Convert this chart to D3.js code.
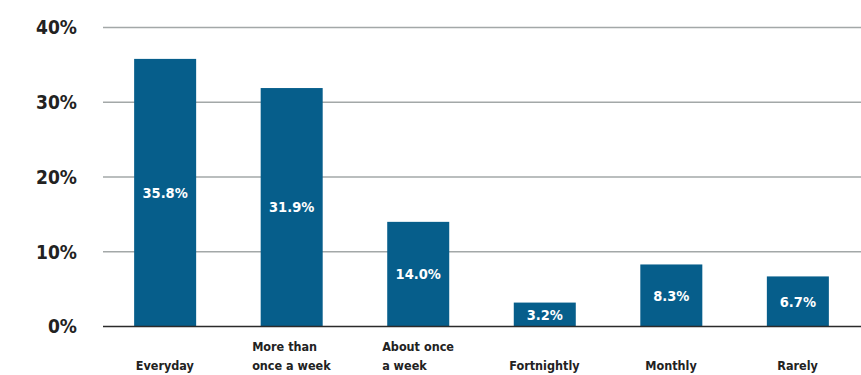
<!DOCTYPE html>
<html>
<head>
<meta charset="utf-8">
<script src="https://cdn.jsdelivr.net/npm/d3@7"></script>
<style>
  body { margin: 0; background: #fff; }
  svg { display: block; font-family: "DejaVu Sans Condensed", "DejaVu Sans", sans-serif; }
</style>
</head>
<body>
<div id="chart"></div>
<script>
const categories = ["Everyday", "More than once a week", "About once a week", "Fortnightly", "Monthly", "Rarely"]
const categoryLines = [["Everyday"], ["More than", "once a week"], ["About once", "a week"], ["Fortnightly"], ["Monthly"], ["Rarely"]]
const values = [35.8, 31.9, 14.0, 3.2, 8.3, 6.7]
const yTicks = [0, 10, 20, 30, 40]

const width = 861
const height = 375
const marginTop = 27.5
const marginBottom = 48.5
const marginLeft = 103
const marginRight = 0

const svg = d3.select("#chart")
  .append("svg")
  .attr("width", width)
  .attr("height", height)
  .attr("viewBox", [0, 0, width, height])

const x = d3.scaleBand()
  .domain(categories)
  .range([marginLeft - 0.5, width - marginRight - 0.5])
  .paddingInner(0.51)
  .paddingOuter(0.25)

const y = d3.scaleLinear()
  .domain([0, 40])
  .range([height - marginBottom, marginTop])

// gridlines
svg.append("g")
  .selectAll("line")
  .data(yTicks.filter(d => d > 0))
  .join("line")
  .attr("x1", marginLeft)
  .attr("x2", width)
  .attr("y1", d => y(d))
  .attr("y2", d => y(d))
  .attr("stroke", "#a3a8a8")
  .attr("stroke-width", 1.5)

// y tick labels
svg.append("g")
  .selectAll("text")
  .data(yTicks)
  .join("text")
  .attr("x", 77)
  .attr("y", d => y(d))
  .attr("dy", "0.36em")
  .attr("text-anchor", "end")
  .attr("font-size", 19)
  .attr("font-weight", "bold")
  .attr("fill", "#222")
  .text(d => d + "%")

// bars
svg.append("g")
  .selectAll("rect")
  .data(values)
  .join("rect")
  .attr("x", (d, i) => x(categories[i]))
  .attr("width", x.bandwidth())
  .attr("y", d => y(d))
  .attr("height", d => y(0) - y(d))
  .attr("fill", "#065e8b")

// baseline
svg.append("line")
  .attr("x1", marginLeft)
  .attr("x2", width)
  .attr("y1", y(0))
  .attr("y2", y(0))
  .attr("stroke", "#2b2b2b")
  .attr("stroke-width", 1.5)

// value labels
svg.append("g")
  .selectAll("text")
  .data(values)
  .join("text")
  .attr("x", (d, i) => x(categories[i]) + x.bandwidth() / 2)
  .attr("y", d => (y(d) + y(0)) / 2)
  .attr("dy", "0.36em")
  .attr("text-anchor", "middle")
  .attr("font-size", 14.5)
  .attr("font-weight", "bold")
  .attr("fill", "#fff")
  .text(d => d.toFixed(1) + "%")

// category labels, lines left aligned, block centred under bar
const catG = svg.append("g")
  .attr("font-size", 12.5)
  .attr("font-weight", "bold")
  .attr("fill", "#222")

categoryLines.forEach((lines, i) => {
  const cx = x(categories[i]) + x.bandwidth() / 2
  const t = catG.append("text")
  lines.forEach((line, j) => {
    t.append("tspan")
      .attr("x", 0)
      .attr("y", 370 - (lines.length - 1 - j) * 19)
      .text(line)
  })
  const w = t.node().getBBox().width
  t.selectAll("tspan").attr("x", cx - w / 2)
})
</script>
</body>
</html>
